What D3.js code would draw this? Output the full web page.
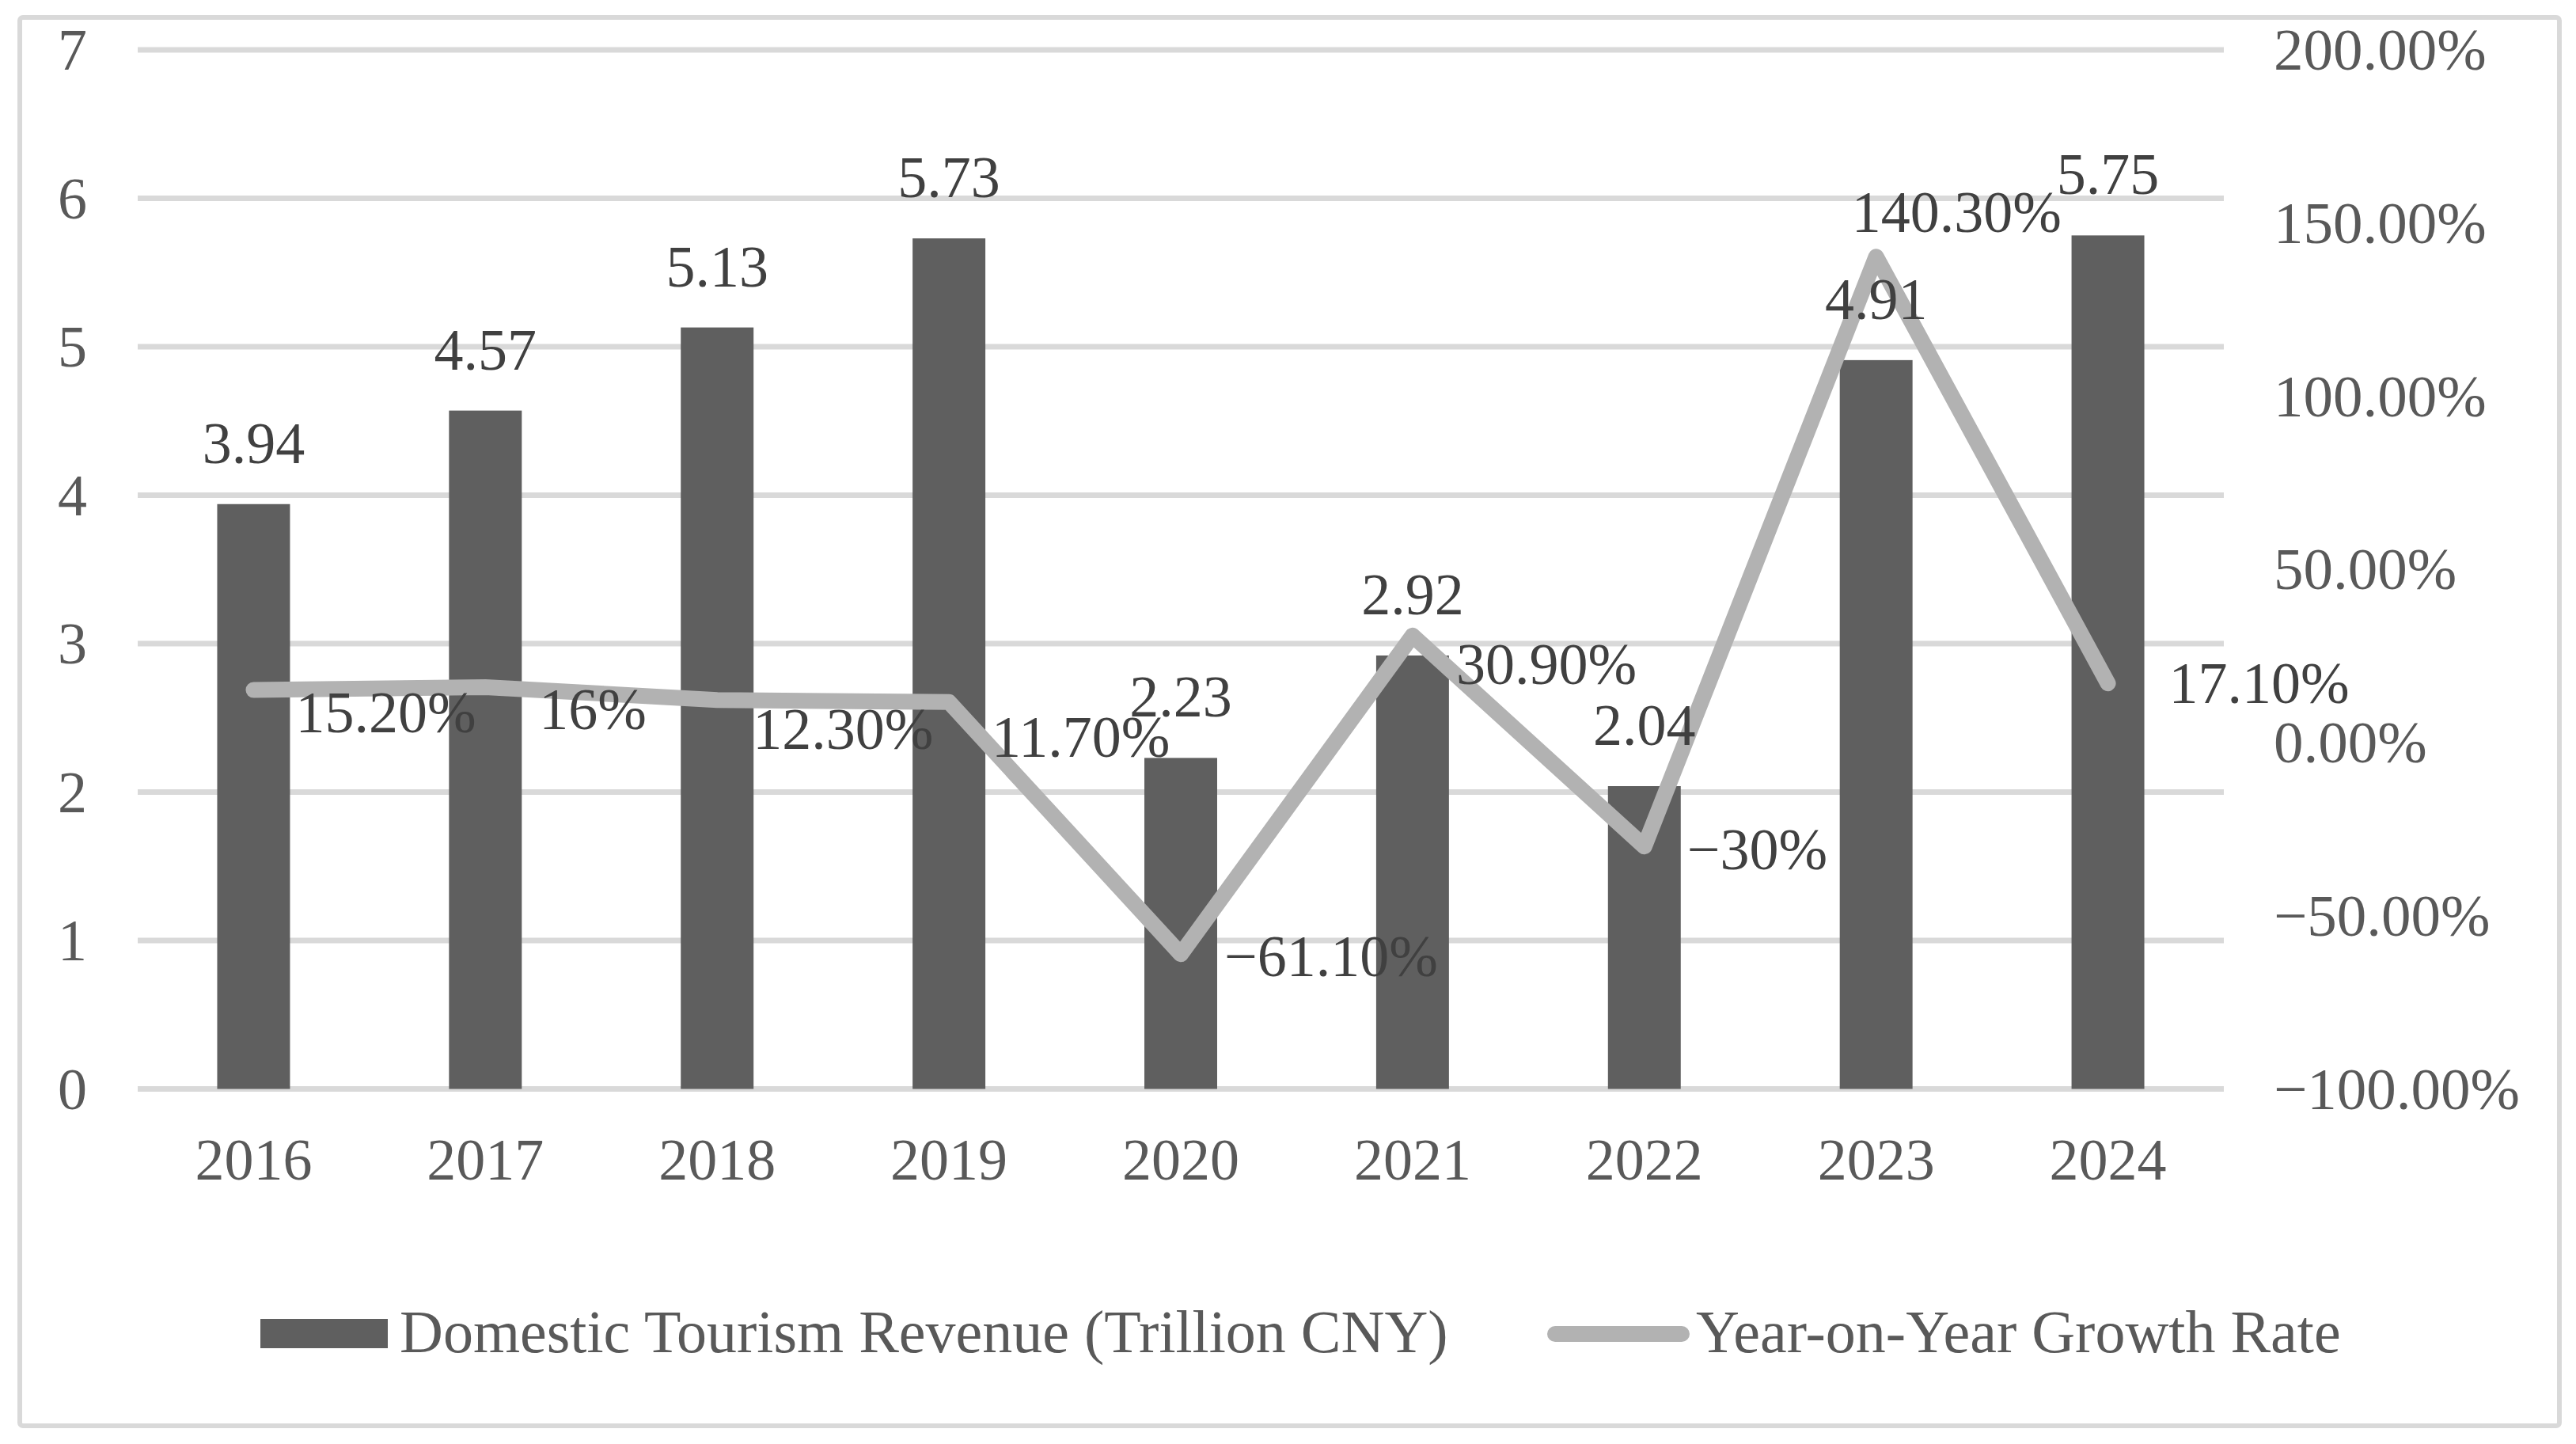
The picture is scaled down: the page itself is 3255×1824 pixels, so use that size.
<!DOCTYPE html>
<html>
<head>
<meta charset="utf-8">
<script src="https://cdn.jsdelivr.net/npm/d3@7"></script>
<style>
  html, body { margin: 0; padding: 0; background: #fff; }
  svg { display: block; font-family: "Liberation Serif", "Times New Roman", serif; }
</style>
</head>
<body>
<svg id="chart"></svg>
<script>
// data
const years = ["2016", "2017", "2018", "2019", "2020", "2021", "2022", "2023", "2024"];
const revenue = [3.94, 4.57, 5.13, 5.73, 2.23, 2.92, 2.04, 4.91, 5.75];
const growth = [15.2, 16, 12.3, 11.7, -61.1, 30.9, -30, 140.3, 17.1];
const leftTicks = [0, 1, 2, 3, 4, 5, 6, 7];
const rightTicks = [-100, -50, 0, 50, 100, 150, 200];
const seriesNames = ["Domestic Tourism Revenue (Trillion CNY)", "Year-on-Year Growth Rate"];

const width = 3255;
const height = 1824;
const plot = { left: 174, right: 2810, top: 63, bottom: 1375.5 };
const fontSize = 74;

const barColor = "#5f5f5f";
const lineColor = "#b2b2b2";
const gridColor = "#d9d9d9";
const axisText = "#595959";
const labelText = "#404040";

// label nudges (dx to label start, dy to label middle), as placed in the original
const growthLabelNudge = [
    [53, 28], [68, 28], [45, 37], [54, 44], [55, 3],
    [55, 36], [54, 4], [-31, -56], [77, 0]
];

const svg = d3.select("#chart")
    .attr("width", width)
    .attr("height", height)
    .attr("viewBox", [0, 0, width, height]);

svg.append("rect")
    .attr("x", 0).attr("y", 0)
    .attr("width", width).attr("height", height)
    .attr("fill", "#fff");

// outer frame
svg.append("rect")
    .attr("x", 25).attr("y", 22)
    .attr("width", 3209).attr("height", 1779)
    .attr("rx", 4)
    .attr("fill", "none")
    .attr("stroke", gridColor)
    .attr("stroke-width", 6);

const x = d3.scaleBand()
    .domain(years)
    .range([plot.left, plot.right])
    .paddingInner(0.686)
    .paddingOuter(0.343);

const y = d3.scaleLinear()
    .domain([0, 7])
    .range([plot.bottom, plot.top]);

const y2 = d3.scaleLinear()
    .domain([-100, 200])
    .range([plot.bottom, plot.top]);

const fmtPct = v => (Number.isInteger(v) ? `${v}%` : `${v.toFixed(2)}%`).replace("-", "\u2212");

// gridlines
svg.append("g")
    .selectAll("line")
    .data(leftTicks)
    .join("line")
    .attr("x1", plot.left)
    .attr("x2", plot.right)
    .attr("y1", d => y(d))
    .attr("y2", d => y(d))
    .attr("stroke", gridColor)
    .attr("stroke-width", 7);

// left axis labels
svg.append("g")
    .selectAll("text")
    .data(leftTicks)
    .join("text")
    .attr("x", 110)
    .attr("y", d => y(d) + 25)
    .attr("text-anchor", "end")
    .attr("font-size", fontSize)
    .attr("fill", axisText)
    .text(d => d);

// right axis labels (left aligned, like the original)
svg.append("g")
    .selectAll("text")
    .data(rightTicks)
    .join("text")
    .attr("x", 2873)
    .attr("y", d => y2(d) + 25)
    .attr("text-anchor", "start")
    .attr("font-size", fontSize + 1)
    .attr("fill", axisText)
    .text(d => `${d.toFixed(2)}%`.replace("-", "\u2212"));

// category labels
svg.append("g")
    .selectAll("text")
    .data(years)
    .join("text")
    .attr("x", d => x(d) + x.bandwidth() / 2)
    .attr("y", 1490)
    .attr("text-anchor", "middle")
    .attr("font-size", fontSize)
    .attr("fill", axisText)
    .text(d => d);

// bars
svg.append("g")
    .attr("fill", barColor)
    .selectAll("rect")
    .data(revenue)
    .join("rect")
    .attr("x", (d, i) => x(years[i]))
    .attr("y", d => y(d))
    .attr("width", x.bandwidth())
    .attr("height", d => y(0) - y(d));

// growth line
const line = d3.line()
    .x((d, i) => x(years[i]) + x.bandwidth() / 2)
    .y(d => y2(d));

svg.append("path")
    .datum(growth)
    .attr("d", line)
    .attr("fill", "none")
    .attr("stroke", lineColor)
    .attr("stroke-width", 20)
    .attr("stroke-linejoin", "round")
    .attr("stroke-linecap", "round");

// bar value labels
svg.append("g")
    .selectAll("text")
    .data(revenue)
    .join("text")
    .attr("x", (d, i) => x(years[i]) + x.bandwidth() / 2)
    .attr("y", d => y(d) - 52)
    .attr("text-anchor", "middle")
    .attr("font-size", fontSize)
    .attr("fill", labelText)
    .text(d => d.toFixed(2));

// growth labels
svg.append("g")
    .selectAll("text")
    .data(growth)
    .join("text")
    .attr("x", (d, i) => x(years[i]) + x.bandwidth() / 2 + growthLabelNudge[i][0])
    .attr("y", (d, i) => y2(d) + growthLabelNudge[i][1] + 25)
    .attr("text-anchor", "start")
    .attr("font-size", fontSize)
    .attr("fill", labelText)
    .text(d => fmtPct(d));

// legend
const legend = svg.append("g");

legend.append("rect")
    .attr("x", 329).attr("y", 1666)
    .attr("width", 161).attr("height", 37)
    .attr("fill", barColor);

legend.append("text")
    .attr("x", 505).attr("y", 1708)
    .attr("font-size", fontSize + 2)
    .attr("fill", axisText)
    .text(seriesNames[0]);

legend.append("line")
    .attr("x1", 1965).attr("x2", 2125)
    .attr("y1", 1685).attr("y2", 1685)
    .attr("stroke", lineColor)
    .attr("stroke-width", 20)
    .attr("stroke-linecap", "round");

legend.append("text")
    .attr("x", 2143).attr("y", 1708)
    .attr("font-size", fontSize + 2)
    .attr("fill", axisText)
    .text(seriesNames[1]);
</script>
</body>
</html>
